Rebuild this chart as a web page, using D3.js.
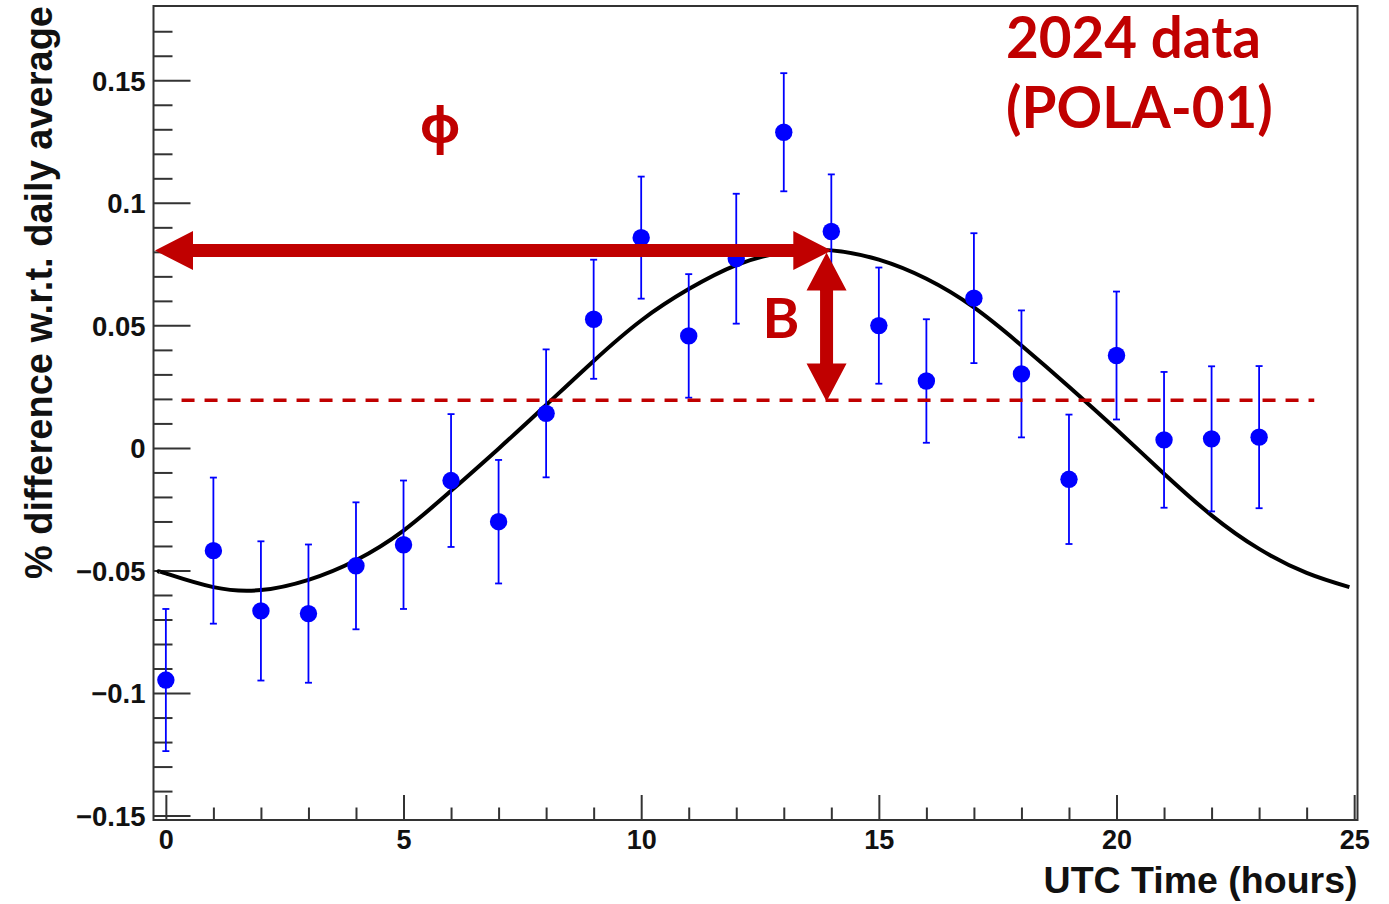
<!DOCTYPE html>
<html>
<head>
<meta charset="utf-8">
<script src="https://cdn.jsdelivr.net/npm/d3@7"></script>
<style>
  html, body { margin: 0; padding: 0; background: #ffffff; }
  svg { display: block; }
</style>
</head>
<body>
<svg id="chart" width="1389" height="904"></svg>
<script>
// Hourly points: mean % difference with respect to the daily average
const hours = [0, 1, 2, 3, 4, 5, 6, 7, 8, 9, 10, 11, 12, 13, 14, 15, 16, 17, 18, 19, 20, 21, 22, 23];
const values = [-0.0947, -0.0419, -0.0665, -0.0676, -0.0481, -0.0395, -0.0133, -0.0301,
                0.0141, 0.0525, 0.0858, 0.0457, 0.0772, 0.1288, 0.0883, 0.0499,
                0.0273, 0.0611, 0.0302, -0.0128, 0.0377, 0.0033, 0.0037, 0.0044];
const errors = [0.0290, 0.0298, 0.0284, 0.0282, 0.0259, 0.0262, 0.0271, 0.0252,
                0.0261, 0.0243, 0.0249, 0.0252, 0.0265, 0.0241, 0.0233, 0.0237,
                0.0252, 0.0265, 0.0259, 0.0264, 0.0261, 0.0277, 0.0296, 0.0290];

// Fitted daily modulation, sampled along the hour axis
const fitHours = [-0.13, 0, 1, 2, 3, 4, 5, 6, 7, 8, 9, 10, 11, 12, 13, 14, 15, 16, 17, 18, 19, 20, 21, 22, 23, 24, 24.9];
const fitValues = [-0.0506, -0.0512, -0.0568, -0.0580, -0.0538, -0.0458, -0.0337, -0.0175, -0.0003,
                   0.0175, 0.0355, 0.0520, 0.0648, 0.0746, 0.0798, 0.0806, 0.0768, 0.0690,
                   0.0573, 0.0418, 0.0250, 0.0075, -0.0105, -0.0275, -0.0412, -0.0510, -0.0568];

// Baseline level (dashed), fit maximum and the phase of the maximum
const baselineLevel = 0.0195;
const baselineFrom = 0.33;
const baselineTo = 24.16;
const peakLevel = 0.0805;
const peakHour = 13.9;
const peakArrowEnd = 14.0;

// Axes
const xTicks = [0, 5, 10, 15, 20, 25];
const xTickLabels = ["0", "5", "10", "15", "20", "25"];
const xMinorTicks = [1, 2, 3, 4, 6, 7, 8, 9, 11, 12, 13, 14, 16, 17, 18, 19, 21, 22, 23, 24];
const yTicks = [-0.15, -0.1, -0.05, 0, 0.05, 0.1, 0.15];
const yTickLabels = ["\u22120.15", "\u22120.1", "\u22120.05", "0", "0.05", "0.1", "0.15"];
const yMinorTicks = [-0.14, -0.13, -0.12, -0.11, -0.09, -0.08, -0.07, -0.06, -0.04, -0.03, -0.02, -0.01,
                     0.01, 0.02, 0.03, 0.04, 0.06, 0.07, 0.08, 0.09, 0.11, 0.12, 0.13, 0.14, 0.16, 0.17];
const xTitle = "UTC Time (hours)";
const yTitle = "% difference w.r.t. daily average";
const noteLines = ["2024 data", "(POLA-01)"];

const frame = { left: 153.5, right: 1357.5, top: 6, bottom: 820 };
const axisColor = "#333333";
const red = "#c00000";
const blue = "#0000ff";
const rootFont = "'Liberation Sans', Arial, Helvetica, sans-serif";
const noteFont = "Lato, 'Open Sans', sans-serif";

const svg = d3.select("#chart");

const x = d3.scaleLinear().domain([-0.26, 25.07]).range([frame.left, frame.right]);
const y = d3.scaleLinear().domain([-0.1518, 0.1803]).range([frame.bottom, frame.top]);

// Frame
svg.append("rect")
  .attr("x", frame.left).attr("y", frame.top)
  .attr("width", frame.right - frame.left).attr("height", frame.bottom - frame.top)
  .attr("fill", "none").attr("stroke", axisColor).attr("stroke-width", 2);

// Y axis: major and minor ticks pointing into the frame
const yAxisMajor = d3.axisLeft(y).tickValues(yTicks)
  .tickFormat((d, i) => yTickLabels[i]).tickSize(-37).tickPadding(8);
const gy = svg.append("g").attr("transform", `translate(${frame.left},0)`).call(yAxisMajor);
gy.select(".domain").remove();
gy.selectAll(".tick line").attr("stroke", axisColor).attr("stroke-width", 2);
gy.selectAll(".tick text")
  .attr("font-family", rootFont).attr("font-weight", "bold").attr("font-size", 27.5)
  .attr("fill", "#111").attr("dy", "0.36em");

const yAxisMinor = d3.axisLeft(y).tickValues(yMinorTicks).tickFormat("").tickSize(-19);
const gym = svg.append("g").attr("transform", `translate(${frame.left},0)`).call(yAxisMinor);
gym.select(".domain").remove();
gym.selectAll(".tick line").attr("stroke", axisColor).attr("stroke-width", 2);

// X axis
const xAxisMajor = d3.axisBottom(x).tickValues(xTicks)
  .tickFormat((d, i) => xTickLabels[i]).tickSize(-25).tickPadding(10);
const gx = svg.append("g").attr("transform", `translate(0,${frame.bottom})`).call(xAxisMajor);
gx.select(".domain").remove();
gx.selectAll(".tick line").attr("stroke", axisColor).attr("stroke-width", 2);
gx.selectAll(".tick text")
  .attr("font-family", rootFont).attr("font-weight", "bold").attr("font-size", 27)
  .attr("fill", "#111");

const xAxisMinor = d3.axisBottom(x).tickValues(xMinorTicks).tickFormat("").tickSize(-12.5);
const gxm = svg.append("g").attr("transform", `translate(0,${frame.bottom})`).call(xAxisMinor);
gxm.select(".domain").remove();
gxm.selectAll(".tick line").attr("stroke", axisColor).attr("stroke-width", 2);

// Axis titles
svg.append("text")
  .attr("x", frame.right).attr("y", 893)
  .attr("text-anchor", "end")
  .attr("font-family", rootFont).attr("font-weight", "bold").attr("font-size", 37.5)
  .attr("fill", "#111")
  .text(xTitle);

svg.append("text")
  .attr("transform", `translate(51.5,${frame.top}) rotate(-90)`)
  .attr("text-anchor", "end")
  .attr("font-family", rootFont).attr("font-weight", "bold").attr("font-size", 38)
  .attr("fill", "#111")
  .text(yTitle);

const plot = svg.append("g");

// Fit curve
const fitPoints = fitHours.map((h, i) => [h, fitValues[i]]);
plot.append("path")
  .datum(fitPoints)
  .attr("d", d3.line().x(d => x(d[0])).y(d => y(d[1])).curve(d3.curveNatural))
  .attr("fill", "none").attr("stroke", "#000").attr("stroke-width", 4);

// Error bars with end caps
const points = hours.map((h, i) => ({ h, v: values[i], e: errors[i] }));
const bars = plot.append("g").attr("stroke", blue).attr("stroke-width", 1.8);
bars.selectAll("line.bar").data(points).join("line").attr("class", "bar")
  .attr("x1", d => x(d.h)).attr("x2", d => x(d.h))
  .attr("y1", d => y(d.v + d.e)).attr("y2", d => y(d.v - d.e));
bars.selectAll("line.capTop").data(points).join("line").attr("class", "capTop")
  .attr("x1", d => x(d.h) - 3.5).attr("x2", d => x(d.h) + 3.5)
  .attr("y1", d => y(d.v + d.e)).attr("y2", d => y(d.v + d.e));
bars.selectAll("line.capBot").data(points).join("line").attr("class", "capBot")
  .attr("x1", d => x(d.h) - 3.5).attr("x2", d => x(d.h) + 3.5)
  .attr("y1", d => y(d.v - d.e)).attr("y2", d => y(d.v - d.e));

// Markers
plot.append("g").selectAll("circle").data(points).join("circle")
  .attr("cx", d => x(d.h)).attr("cy", d => y(d.v)).attr("r", 8.7)
  .attr("fill", blue);

// Baseline level (dashed)
svg.append("line")
  .attr("x1", x(baselineFrom)).attr("x2", x(baselineTo))
  .attr("y1", y(baselineLevel)).attr("y2", y(baselineLevel))
  .attr("stroke", red).attr("stroke-width", 3.5).attr("stroke-dasharray", "13,10");

// Block arrow with heads at both ends, between two points
function doubleArrow(x1, y1, x2, y2, shaft, headLen, headHalf) {
  const dx = x2 - x1, dy = y2 - y1;
  const len = Math.hypot(dx, dy);
  const ux = dx / len, uy = dy / len;
  const px = -uy, py = ux;
  const s = shaft / 2;
  const pts = [
    [x1, y1],
    [x1 + ux * headLen + px * headHalf, y1 + uy * headLen + py * headHalf],
    [x1 + ux * headLen + px * s, y1 + uy * headLen + py * s],
    [x2 - ux * headLen + px * s, y2 - uy * headLen + py * s],
    [x2 - ux * headLen + px * headHalf, y2 - uy * headLen + py * headHalf],
    [x2, y2],
    [x2 - ux * headLen - px * headHalf, y2 - uy * headLen - py * headHalf],
    [x2 - ux * headLen - px * s, y2 - uy * headLen - py * s],
    [x1 + ux * headLen - px * s, y1 + uy * headLen - py * s],
    [x1 + ux * headLen - px * headHalf, y1 + uy * headLen - py * headHalf]
  ];
  return "M" + pts.map(p => p.join(",")).join("L") + "Z";
}

const notes = svg.append("g").attr("fill", red);

// Phase arrow: from the start of the day to the time of the maximum
notes.append("path")
  .attr("d", doubleArrow(x(x.domain()[0]) + 1.5, y(peakLevel), x(peakArrowEnd), y(peakLevel), 13, 38, 19.5));

// Amplitude arrow: from the maximum down to the baseline level
notes.append("path")
  .attr("d", doubleArrow(x(peakHour), y(peakLevel) + 2, x(peakHour), y(baselineLevel - 0.0006), 13, 38, 20));

notes.append("text")
  .attr("x", x(5.77)).attr("y", 143)
  .attr("text-anchor", "middle")
  .attr("font-family", "'Noto Sans', 'DejaVu Sans', sans-serif").attr("font-weight", "bold")
  .attr("font-size", 50)
  .text("\u03D5");

notes.append("text")
  .attr("x", x(12.55)).attr("y", 338)
  .attr("font-family", noteFont).attr("font-weight", "bold").attr("font-size", 56)
  .text("B");

notes.selectAll("text.note").data(noteLines).join("text").attr("class", "note")
  .attr("x", 1006).attr("y", (d, i) => 58 + i * 70)
  .attr("font-family", noteFont).attr("font-weight", "bold").attr("font-size", 56.5)
  .text(d => d);
</script>
</body>
</html>
